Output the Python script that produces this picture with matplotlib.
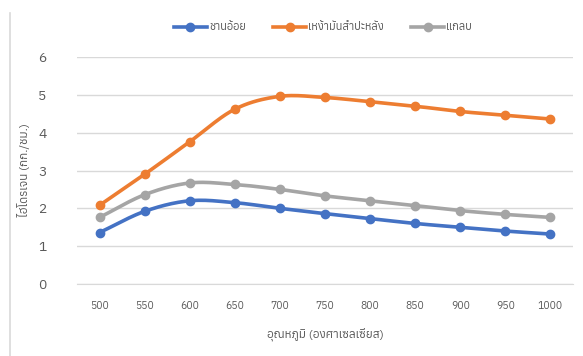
import numpy as np
import matplotlib
matplotlib.use("Agg")
import matplotlib.pyplot as plt
from matplotlib import font_manager as fm
from matplotlib.ft2font import FT2Font

# find an installed font that has Thai glyphs
thai_fonts = []
for f in fm.fontManager.ttflist:
    try:
        if ord("ก") in FT2Font(f.fname).get_charmap():
            thai_fonts.append(f.name)
    except Exception:
        pass
thai_fonts = sorted(set(thai_fonts))
plt.rcParams["font.family"] = thai_fonts + ["DejaVu Sans"]

temps = [500, 550, 600, 650, 700, 750, 800, 850, 900, 950, 1000]
bagasse = [1.36, 1.92, 2.20, 2.15, 2.00, 1.86, 1.73, 1.60, 1.50, 1.40, 1.32]
cassava = [2.08, 2.90, 3.76, 4.62, 4.96, 4.93, 4.82, 4.70, 4.56, 4.46, 4.36]
husk = [1.76, 2.36, 2.67, 2.63, 2.50, 2.33, 2.20, 2.07, 1.94, 1.84, 1.76]

series = [
    ("ชานอ้อย", bagasse, "#4472C4"),
    ("เหง้ามันสำปะหลัง", cassava, "#ED7D31"),
    ("แกลบ", husk, "#A5A5A5"),
]


def smooth(x, y, n=20):
    # catmull-rom style curve through the points, like excel's smoothed line
    x = np.asarray(x, float)
    y = np.asarray(y, float)
    px = np.concatenate([[2 * x[0] - x[1]], x, [2 * x[-1] - x[-2]]])
    py = np.concatenate([[2 * y[0] - y[1]], y, [2 * y[-1] - y[-2]]])
    xs, ys = [], []
    t = np.linspace(0, 1, n, endpoint=False)
    for i in range(1, len(px) - 2):
        for arr, out in ((px, xs), (py, ys)):
            p0, p1, p2, p3 = arr[i - 1], arr[i], arr[i + 1], arr[i + 2]
            c1 = p1 + (p2 - p0) / 6
            c2 = p2 - (p3 - p1) / 6
            out.extend((1 - t) ** 3 * p1 + 3 * (1 - t) ** 2 * t * c1
                       + 3 * (1 - t) * t ** 2 * c2 + t ** 3 * p2)
    xs.append(x[-1])
    ys.append(y[-1])
    return np.array(xs), np.array(ys)


fig = plt.figure(figsize=(5.83, 3.56), dpi=100)
ax = fig.add_axes([77 / 583, 1 - 284 / 356, 496 / 583, 227 / 356])

idx = np.arange(len(temps))
for name, vals, color in series:
    sx, sy = smooth(idx, vals)
    ax.plot(sx, sy, color=color, lw=2.6, solid_capstyle="round", zorder=3)
    ax.plot(idx, vals, "o", color=color, ms=6, zorder=4)
    # legend handle
    ax.plot([], [], "-o", color=color, lw=2.6, ms=6, label=name)

ax.set_xlim(-0.5, len(temps) - 0.5)
ax.set_ylim(0, 6)
ax.set_yticks(range(0, 7))
ax.set_xticks(idx)
ax.set_xticklabels([str(t) for t in temps])
ax.grid(axis="y", color="#D9D9D9", lw=1)
ax.set_axisbelow(True)
for s in ["top", "right", "left"]:
    ax.spines[s].set_visible(False)
ax.spines["bottom"].set_color("#D9D9D9")
ax.tick_params(length=0, colors="#595959")
ax.tick_params(axis="x", labelsize=7.5, pad=12)
ax.tick_params(axis="y", labelsize=10, pad=22)

ax.set_xlabel("อุณหภูมิ (องศาเซลเซียส)", fontsize=8.5, color="#595959", labelpad=12)
ax.set_ylabel("ไฮโดรเจน (กก./ชม.)", fontsize=8.5, color="#595959", labelpad=6)

ax.legend(loc="center", bbox_to_anchor=(0.496, 1.13), ncol=3, frameon=False,
          fontsize=8, labelcolor="#595959", handlelength=3.0, handletextpad=0.2,
          columnspacing=2.4)

# light border line on the left like the screenshot
fig.add_artist(plt.Line2D([10 / 583, 10 / 583], [0, 1 - 13 / 356], color="#D9D9D9", lw=1.2))

fig.savefig("out.png", dpi=100)
